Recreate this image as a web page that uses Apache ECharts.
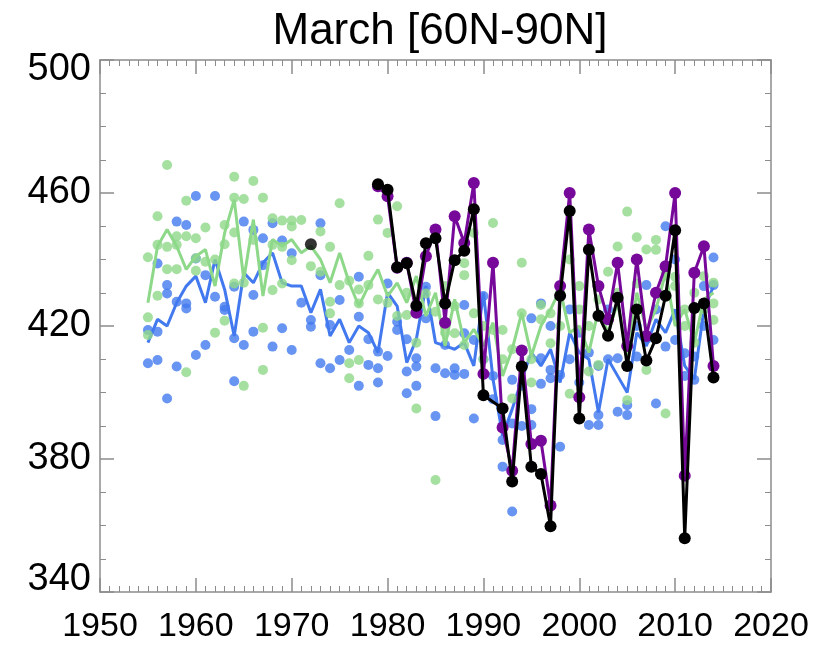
<!DOCTYPE html>
<html>
<head>
<meta charset="utf-8">
<script src="https://cdn.jsdelivr.net/npm/echarts@6/dist/echarts.min.js"></script>
<style>
  html, body { margin: 0; padding: 0; background: #fff; }
  #chart { width: 820px; height: 646px; }
</style>
</head>
<body>
<div id="chart"></div>
<script>
var years = [1955, 1956, 1957, 1958, 1959, 1960, 1961, 1962, 1963, 1964,
  1965, 1966, 1967, 1968, 1969, 1970, 1971, 1972, 1973, 1974,
  1975, 1976, 1977, 1978, 1979, 1980, 1981, 1982, 1983, 1984,
  1985, 1986, 1987, 1988, 1989, 1990, 1991, 1992, 1993, 1994,
  1995, 1996, 1997, 1998, 1999, 2000, 2001, 2002, 2003, 2004,
  2005, 2006, 2007, 2008, 2009, 2010, 2011, 2012, 2013, 2014];

// ensemble means
var blueLine = [415, 422, 420, 427, 432, 435, 427, 440, 431, 417,
  436, 433, 439, 442, 433, 432, 432, 424, 431, 417,
  422, 415, 420, 418, 412, 430, 426, 409, 416, 432,
  415, 414, 413, 415, 408, 430, 404, 387, 395, 404,
  412, 408, 413, 403, 418, 412, 410, 394, 410, 405,
  400, 418, 414, 422, 418, 425, 408, 404, 425, 432];

var greenLine = [427, 444, 449, 444, 437, 441, 443, 432, 448, 458,
  434, 452, 429, 446, 444, 446, 442, 444, 440, 433,
  442, 433, 426, 432, 437, 429, 433, 427, 435, 423,
  430, 414, 428, 415, 419, 414, 421, 405, 413, 424,
  411, 420, 425, 431, 418, 420, 412, 425, 418, 427,
  411, 430, 419, 425, 436, 420, 425, 415, 428, 430];

// individual members [year, value]
var blueDots = [
  [1955, 418.8], [1955, 408.8], [1956, 438.8], [1956, 418.3], [1956, 409.8],
  [1957, 432.3], [1957, 429.8], [1957, 398.2], [1958, 451.4], [1958, 427.3], [1958, 407.8],
  [1959, 450.4], [1959, 426.8], [1959, 425.3], [1960, 459.1], [1960, 440.3], [1960, 411.3],
  [1961, 435.3], [1961, 414.3], [1962, 459.1], [1962, 428.8], [1963, 425.8], [1963, 424.8],
  [1964, 431.8], [1964, 416.3], [1964, 403.4], [1965, 451.4], [1965, 414.3],
  [1966, 448.9], [1966, 429.3], [1966, 418.3], [1967, 446.4], [1967, 438.3],
  [1968, 450.9], [1968, 413.8], [1969, 445.7], [1969, 419.3], [1970, 441.9], [1970, 412.8],
  [1971, 427.0], [1972, 421.8], [1972, 419.8], [1973, 450.9], [1973, 435.3], [1973, 408.8],
  [1974, 420.3], [1974, 407.3], [1975, 427.8], [1975, 409.8], [1976, 412.8],
  [1977, 434.8], [1977, 422.8], [1977, 402.0], [1978, 416.0], [1978, 408.3],
  [1979, 412.3], [1979, 407.3], [1979, 403.0], [1980, 432.8], [1980, 411.0],
  [1981, 421.3], [1981, 418.8], [1982, 416.0], [1982, 406.3], [1982, 399.8],
  [1983, 410.3], [1983, 407.8], [1983, 402.0], [1984, 431.8], [1984, 422.3],
  [1985, 407.3], [1985, 392.9], [1986, 414.3], [1986, 405.8], [1987, 407.3], [1987, 405.3],
  [1988, 426.3], [1988, 417.8], [1988, 405.6], [1989, 415.8], [1989, 392.2],
  [1990, 429.0], [1990, 410.0], [1991, 405.0], [1991, 398.0],
  [1992, 385.7], [1992, 377.7], [1992, 390.0], [1993, 403.8], [1993, 390.7], [1993, 364.2],
  [1994, 389.9], [1994, 402.0], [1995, 422.3], [1995, 390.2], [1995, 395.0],
  [1996, 426.8], [1996, 410.3], [1996, 402.6], [1997, 420.0], [1997, 406.8], [1997, 404.3],
  [1998, 405.3], [1998, 383.7], [1999, 425.0], [1999, 410.0], [2000, 418.0], [2000, 403.0],
  [2001, 390.2], [2001, 412.0], [2002, 390.2], [2002, 393.2], [2002, 408.0],
  [2003, 410.0], [2003, 425.0], [2004, 410.3], [2004, 394.2], [2005, 396.2], [2005, 393.2],
  [2006, 410.8], [2006, 420.0], [2007, 432.3], [2007, 416.0], [2008, 396.7], [2008, 425.0],
  [2009, 450.0], [2009, 413.8], [2010, 415.8], [2010, 440.0], [2011, 411.8], [2011, 405.0],
  [2012, 410.8], [2012, 403.8], [2013, 432.0], [2013, 420.0],
  [2014, 440.6], [2014, 432.3], [2014, 415.8]
];

var greenDots = [
  [1955, 440.7], [1955, 422.6], [1955, 417.3], [1956, 453.0], [1956, 444.4], [1956, 429.1],
  [1957, 468.4], [1957, 443.8], [1957, 437.1], [1958, 447.0], [1958, 444.4], [1958, 437.1],
  [1959, 457.7], [1959, 447.0], [1959, 406.1], [1960, 446.4], [1960, 440.4], [1960, 436.6],
  [1961, 449.6], [1961, 439.3], [1962, 440.0], [1962, 418.0],
  [1963, 450.4], [1963, 444.6], [1963, 421.6], [1964, 464.9], [1964, 458.6], [1964, 448.1], [1964, 432.8],
  [1965, 458.2], [1965, 433.0], [1965, 402.0], [1966, 463.6], [1966, 445.9],
  [1967, 458.6], [1967, 419.5], [1967, 406.8], [1968, 452.4], [1968, 444.4], [1968, 430.8],
  [1969, 451.7], [1969, 443.8], [1969, 432.8], [1970, 451.7], [1970, 449.9], [1970, 439.8],
  [1971, 451.9], [1972, 438.0], [1973, 448.4], [1973, 436.3],
  [1974, 443.8], [1974, 427.3], [1974, 423.8], [1975, 456.9], [1975, 432.3],
  [1976, 433.6], [1976, 408.8], [1976, 404.3], [1977, 431.0], [1977, 426.8], [1977, 409.8],
  [1978, 441.1], [1978, 432.3], [1979, 428.0], [1979, 452.0], [1980, 427.0], [1980, 448.0],
  [1981, 456.0], [1981, 423.0], [1982, 423.3], [1982, 430.0], [1983, 395.2], [1983, 415.0],
  [1984, 429.8], [1985, 424.3], [1985, 373.7], [1986, 432.0], [1986, 418.0],
  [1987, 417.8], [1987, 426.0], [1988, 438.9], [1988, 435.3], [1988, 414.3],
  [1989, 423.8], [1989, 448.0], [1990, 410.0], [1990, 420.0], [1991, 451.0], [1991, 418.8],
  [1992, 418.8], [1992, 410.0], [1993, 398.2], [1993, 413.0], [1994, 423.8], [1994, 439.0],
  [1995, 410.0], [1995, 403.0], [1996, 426.3], [1996, 422.0], [1997, 414.8], [1997, 423.8],
  [1998, 430.0], [1998, 420.0], [1999, 399.6], [1999, 440.0], [2000, 425.0], [2000, 432.0],
  [2001, 406.3], [2001, 420.0], [2002, 408.3], [2002, 428.0], [2003, 436.3], [2003, 422.0],
  [2004, 443.9], [2004, 430.0], [2005, 397.7], [2005, 454.4], [2006, 432.8], [2006, 446.7],
  [2007, 406.8], [2007, 443.0], [2008, 442.9], [2008, 445.9], [2009, 393.7], [2009, 436.0],
  [2010, 434.8], [2010, 432.0], [2011, 425.0], [2011, 420.0], [2012, 415.0], [2012, 430.0],
  [2013, 435.0], [2013, 425.0], [2014, 421.8], [2014, 426.8], [2014, 433.0]
];

var obsYears = [1979, 1980, 1981, 1982, 1983, 1984, 1985, 1986, 1987, 1988,
  1989, 1990, 1991, 1992, 1993, 1994, 1995, 1996, 1997, 1998,
  1999, 2000, 2001, 2002, 2003, 2004, 2005, 2006, 2007, 2008,
  2009, 2010, 2011, 2012, 2013, 2014];

var purpleVals = [462, 459, 437.5, 439, 424, 441, 449, 421, 453, 445,
  463, 405.6, 439, 389.5, 376.5, 412.6, 384.5, 385.5, 366, 432,
  460, 398.6, 449, 432, 422, 439, 414, 440, 417, 430,
  438, 460, 375, 436, 444, 408];

var blackVals = [462.6, 461, 437.7, 438.9, 426.1, 444.9, 446.4, 426.8, 439.8, 442.6,
  455.1, 399.2, null, 395.2, 373.2, 407.8, 377.7, 375.5, 359.8, 429.1,
  454.6, 392.2, 442.9, 423.1, 417.1, 428.5, 408, 425, 409.6, 416.3,
  429.1, 448.8, 356.2, 425.4, 426.8, 404.5];

var blackExtra = [[1972, 444.6]];

var FONT = "'Liberation Sans', Arial, sans-serif";
var BLUE = '#4279ef';
var GREEN = '#8ed88a';
var PURPLE = '#76089a';
var FRAME = '#8c8c8c';

function pair(xs, ys) {
  return xs.map(function (x, i) { return [x, ys[i]]; });
}

var myChart = echarts.init(document.getElementById('chart'));

function xAx(pos) {
  return {
    type: 'value', position: pos, min: 1950, max: 2020, interval: 10,
    axisLine: { show: true, onZero: false, lineStyle: { color: FRAME, width: 1.5 } },
    axisTick: { show: true, inside: true, length: 14, lineStyle: { color: FRAME, width: 1.5 } },
    minorTick: { show: true, splitNumber: 10, length: 6, lineStyle: { color: FRAME, width: 1 } },
    axisLabel: {
      show: pos === 'bottom', fontSize: 34, color: '#000', margin: 18, fontFamily: FONT,
      formatter: function (v) { return String(v); }
    },
    splitLine: { show: false }
  };
}
function yAx(pos) {
  return {
    type: 'value', position: pos, min: 340, max: 500, interval: 40,
    axisLine: { show: true, onZero: false, lineStyle: { color: FRAME, width: 1.5 } },
    axisTick: { show: true, inside: true, length: 14, lineStyle: { color: FRAME, width: 1.5 } },
    minorTick: { show: true, splitNumber: 4, length: 6, lineStyle: { color: FRAME, width: 1 } },
    axisLabel: {
      show: pos === 'left', fontSize: 38, color: '#000', margin: 9, fontFamily: FONT,
      // end labels sit a little inside the frame
      formatter: function (v) {
        if (v === 500) return '{t|' + v + '}';
        if (v === 340) return '{b|' + v + '}';
        return String(v);
      },
      rich: {
        t: { fontSize: 38, fontFamily: FONT, color: '#000', padding: [20, 0, 0, 0] },
        b: { fontSize: 38, fontFamily: FONT, color: '#000', padding: [0, 0, 24, 0] }
      }
    },
    splitLine: { show: false }
  };
}

var option = {
  animation: false,
  backgroundColor: '#fff',
  title: {
    text: 'March [60N-90N]',
    left: 435, top: 5, textAlign: 'center',
    textStyle: { fontSize: 44, fontWeight: 'normal', color: '#000', fontFamily: FONT }
  },
  grid: { left: 100, right: 49, top: 60, bottom: 54 },
  xAxis: [xAx('bottom'), xAx('top')],
  yAxis: [yAx('left'), yAx('right')],
  series: [
    { name: 'blue members', type: 'scatter', data: blueDots, symbolSize: 10,
      itemStyle: { color: BLUE }, z: 2 },
    { name: 'blue mean', type: 'line', data: pair(years, blueLine), symbol: 'none',
      lineStyle: { color: BLUE, width: 3 }, z: 3 },
    { name: 'green members', type: 'scatter', data: greenDots, symbolSize: 10,
      itemStyle: { color: GREEN }, z: 4 },
    { name: 'green mean', type: 'line', data: pair(years, greenLine), symbol: 'none',
      lineStyle: { color: GREEN, width: 3 }, z: 5 },
    { name: 'purple', type: 'line', data: pair(obsYears, purpleVals), symbol: 'circle', symbolSize: 12,
      itemStyle: { color: PURPLE }, lineStyle: { color: PURPLE, width: 3 }, z: 6 },
    { name: 'black', type: 'line', data: pair(obsYears, blackVals), connectNulls: true,
      symbol: 'circle', symbolSize: 12,
      itemStyle: { color: '#000' }, lineStyle: { color: '#000', width: 3 }, z: 7 },
    { name: 'black extra', type: 'scatter', data: blackExtra, symbolSize: 12,
      itemStyle: { color: '#000' }, z: 7 }
  ]
};
myChart.setOption(option);
window.addEventListener('resize', function () {
  myChart.resize();
});
</script>
</body>
</html>
